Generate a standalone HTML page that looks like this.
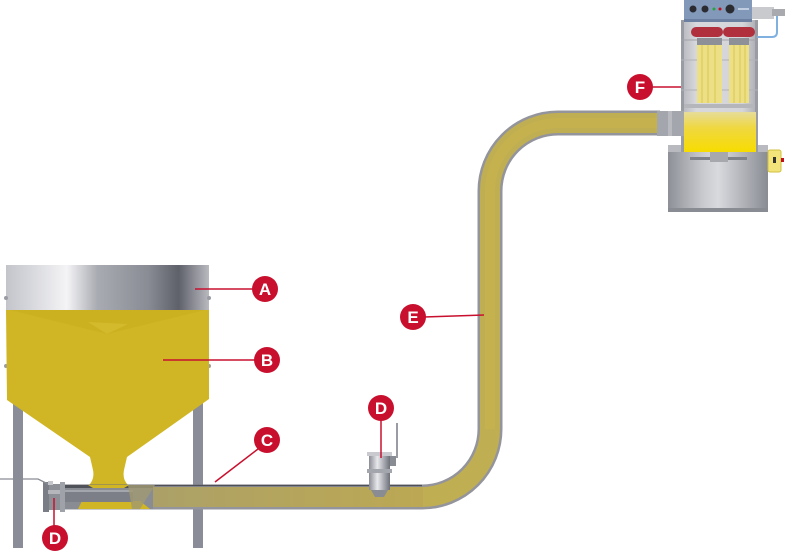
<!DOCTYPE html>
<html><head><meta charset="utf-8"><style>
html,body{margin:0;padding:0;background:#fff;}
svg{display:block;}
text{font-family:"Liberation Sans",Arial,sans-serif;font-weight:bold;}
</style></head><body>
<svg width="787" height="553" viewBox="0 0 787 553" xmlns="http://www.w3.org/2000/svg">
<defs>
<linearGradient id="silver" x1="0" x2="1" y1="0" y2="0">
<stop offset="0" stop-color="#c4c5ca"/><stop offset="0.12" stop-color="#d6d7dc"/>
<stop offset="0.3" stop-color="#f4f4f6"/><stop offset="0.45" stop-color="#a9abb2"/>
<stop offset="0.7" stop-color="#8a8c95"/><stop offset="0.85" stop-color="#5e606a"/>
<stop offset="1" stop-color="#b9bac0"/></linearGradient>
<linearGradient id="valve" x1="0" x2="1" y1="0" y2="0">
<stop offset="0" stop-color="#8a8c94"/><stop offset="0.4" stop-color="#e8e9ec"/>
<stop offset="1" stop-color="#6e707a"/></linearGradient>
<linearGradient id="base" x1="0" x2="1" y1="0" y2="0">
<stop offset="0" stop-color="#8e9098"/><stop offset="0.35" stop-color="#c8cace"/>
<stop offset="0.5" stop-color="#d8dade"/><stop offset="1" stop-color="#8a8c94"/></linearGradient>
<linearGradient id="bed" x1="0" x2="0" y1="0" y2="1">
<stop offset="0" stop-color="#e6dc9a"/><stop offset="0.4" stop-color="#f0d840"/>
<stop offset="1" stop-color="#f6dc00"/></linearGradient>
<linearGradient id="body" x1="0" x2="1" y1="0" y2="0">
<stop offset="0" stop-color="#b4b6bc"/><stop offset="0.2" stop-color="#d8d9dd"/>
<stop offset="0.8" stop-color="#d4d5d9"/><stop offset="1" stop-color="#a8aab0"/></linearGradient>
<linearGradient id="hpipe" gradientUnits="userSpaceOnUse" x1="65" y1="0" x2="422" y2="0">
<stop offset="0" stop-color="#a49c70"/><stop offset="0.5" stop-color="#b2a460"/>
<stop offset="1" stop-color="#bca854"/></linearGradient>
</defs>

<!-- legs -->
<rect x="13" y="398" width="10" height="150" fill="#8a8d98"/>
<rect x="193" y="398" width="10" height="150" fill="#8a8d98"/>

<!-- hopper silver band -->
<rect x="6" y="265" width="203" height="46" fill="url(#silver)"/>
<circle cx="6" cy="298" r="2" fill="#9a9ca4"/><circle cx="209" cy="298" r="2" fill="#9a9ca4"/>
<circle cx="6" cy="366" r="2" fill="#9a9ca4"/><circle cx="209" cy="366" r="2" fill="#9a9ca4"/>

<!-- hopper yellow -->
<path d="M6 310 H209 V399 L127 457 L124 470 Q122 480 129 486 H88 Q95 480 93 470 L90 457 L7 400 Z" fill="#d0b624"/>
<path d="M10 310 L107 334 L205 310 Z" fill="#c4aa1c" opacity="0.4"/>
<path d="M88 322 L107 334 L128 324 Z" fill="#dcc43a" opacity="0.5"/>

<!-- main pipe -->
<path d="M65 497 H422 A68 68 0 0 0 490 429 V191 A68 68 0 0 1 558 123 H660" fill="none" stroke="#93949c" stroke-width="25"/>
<path d="M420 497 H422 A68 68 0 0 0 490 429 V191 A68 68 0 0 1 558 123 H660" fill="none" stroke="#c0ae52" stroke-width="20"/>
<path d="M65 497 H423" fill="none" stroke="url(#hpipe)" stroke-width="20"/>
<path d="M490 429 V191 A68 68 0 0 1 558 123 H660" fill="none" stroke="#cdb848" stroke-width="10" opacity="0.4"/>
<line x1="65" y1="485.5" x2="422" y2="485.5" stroke="#4e5058" stroke-width="1.5"/>

<!-- left dark section of horizontal pipe -->
<rect x="63" y="485" width="90" height="24" fill="#8a8c94"/>
<rect x="63" y="485" width="90" height="3" fill="#50525a"/>
<path d="M78 509 L82 501 H140 L150 509 Z" fill="#d0b624"/>
<rect x="63" y="490" width="70" height="12" fill="#7c7e88"/>
<rect x="63" y="490" width="70" height="2" fill="#a4a6ae"/>
<path d="M128 485 L155 485 L140 509 L132 509 Z" fill="#a09a70" opacity="0.8"/>
<!-- hopper neck into pipe -->
<path d="M88 485 H129 L124 488 H93 Z" fill="#d0b624"/>

<!-- left coupling -->
<rect x="43" y="484" width="20" height="26" fill="#8e9098"/>
<rect x="43" y="482" width="6" height="30" fill="#7a7c86"/>
<rect x="60" y="482" width="5" height="30" fill="#a0a2aa"/>
<rect x="48" y="490" width="12" height="4" fill="#b4b6bc"/>
<polyline points="0,479 38,479 50,485" fill="none" stroke="#8a8c94" stroke-width="1.3"/>
<rect x="48" y="481" width="5" height="4" fill="#c4c6cc"/>

<!-- middle valve -->
<line x1="397" y1="423" x2="397" y2="458" stroke="#9a9ca4" stroke-width="2"/>
<rect x="389" y="456" width="7" height="10" fill="#8a8c94"/>
<rect x="369" y="454" width="21" height="36" fill="url(#valve)"/>
<path d="M371 490 H388 L384 497 H375 Z" fill="#8a8c94"/>
<rect x="367" y="452" width="25" height="4" fill="#c8cacf"/>
<rect x="367" y="469" width="25" height="4" fill="#a4a6ad"/>

<!-- collector: base -->
<rect x="668" y="145" width="100" height="67" fill="url(#base)"/>
<rect x="668" y="145" width="100" height="7" fill="#b8babf"/>
<rect x="668" y="208" width="100" height="4" fill="#8a8c94"/>
<rect x="690" y="157" width="20" height="3" fill="#80828a"/>
<rect x="727" y="157" width="20" height="3" fill="#80828a"/>
<rect x="710" y="152" width="18" height="10" fill="#a6a8ae"/>
<!-- yellow switch box -->
<rect x="768" y="150" width="13" height="22" rx="2" fill="#f2e47a" stroke="#d0c040" stroke-width="1"/>
<rect x="773" y="157" width="3" height="6" fill="#333"/>
<rect x="781" y="158" width="3" height="4" fill="#c01020"/>

<!-- body -->
<rect x="681" y="20" width="77" height="132" fill="url(#body)"/>
<rect x="681" y="20" width="3" height="132" fill="#9a9ca4"/>
<rect x="755" y="20" width="3" height="132" fill="#9a9ca4"/>
<line x1="681" y1="40" x2="758" y2="40" stroke="#a0a2a8" stroke-width="1"/>
<line x1="681" y1="60" x2="758" y2="60" stroke="#b0b2b8" stroke-width="1"/>
<line x1="681" y1="90" x2="758" y2="90" stroke="#b0b2b8" stroke-width="1"/>
<rect x="684" y="104" width="71" height="4" fill="#b4b6bc"/>
<!-- filters -->
<rect x="697" y="45" width="25" height="58" fill="#ecdf86"/>
<rect x="729" y="45" width="20" height="58" fill="#ecdf86"/>
<g stroke="#d8c850" stroke-width="1">
<line x1="702" y1="45" x2="702" y2="103"/><line x1="708" y1="45" x2="708" y2="103"/><line x1="715" y1="45" x2="715" y2="103"/>
<line x1="734" y1="45" x2="734" y2="103"/><line x1="740" y1="45" x2="740" y2="103"/><line x1="745" y1="45" x2="745" y2="103"/>
</g>
<rect x="697" y="38" width="25" height="7" fill="#8e9098"/>
<rect x="729" y="38" width="20" height="7" fill="#8e9098"/>
<!-- red caps -->
<rect x="691" y="27" width="32" height="10" rx="5" fill="#b0303e"/>
<rect x="723" y="27" width="32" height="10" rx="5" fill="#b0303e"/>
<!-- yellow bed -->
<rect x="684" y="112" width="72" height="40" fill="url(#bed)"/>
<!-- top pipe coupling -->
<rect x="657" y="111" width="27" height="25" fill="#a4a6ae"/>
<rect x="668" y="111" width="4" height="25" fill="#b8bac0"/>

<!-- control box -->
<rect x="684" y="0" width="68" height="21" fill="#8399ba"/>
<rect x="684" y="19" width="68" height="3" fill="#6b7fa0"/>
<circle cx="693" cy="9" r="3.5" fill="#2a2c32"/>
<circle cx="705" cy="9" r="3.5" fill="#2a2c32"/>
<circle cx="714" cy="9" r="1.5" fill="#2aa040"/>
<circle cx="720" cy="9" r="1.5" fill="#c01020"/>
<circle cx="730" cy="9" r="4.5" fill="#2a2c32"/>
<rect x="738" y="8" width="11" height="2" fill="#c0cce0"/>
<!-- fitting -->
<rect x="752" y="7" width="22" height="12" fill="#c8cace"/>
<rect x="772" y="9" width="13" height="7" fill="#a8aab0"/>
<path d="M777 16 V32 Q777 37 772 37 H757" fill="none" stroke="#7fb0e0" stroke-width="2"/>

<!-- labels -->
<g stroke="#c8102e" stroke-width="1.5" fill="none">
<line x1="195" y1="289" x2="254" y2="289"/>
<line x1="163" y1="360" x2="256" y2="360"/>
<line x1="215" y1="482" x2="258" y2="449"/>
<line x1="54" y1="498" x2="54" y2="526"/>
<line x1="381" y1="418" x2="381" y2="458"/>
<line x1="424" y1="317" x2="484" y2="315"/>
<line x1="652" y1="87" x2="681" y2="87"/>
</g>
<g fill="#c8102e">
<circle cx="265" cy="289" r="13"/>
<circle cx="267" cy="360" r="13"/>
<circle cx="267" cy="440" r="13"/>
<circle cx="55" cy="538" r="13"/>
<circle cx="381" cy="408" r="13"/>
<circle cx="413" cy="317" r="13"/>
<circle cx="640" cy="87" r="13"/>
</g>
<g fill="#fff" font-size="17" text-anchor="middle">
<text x="265" y="295">A</text>
<text x="267" y="366">B</text>
<text x="267" y="446">C</text>
<text x="55" y="544">D</text>
<text x="381" y="414">D</text>
<text x="413" y="323">E</text>
<text x="640" y="93">F</text>
</g>
</svg>
</body></html>
